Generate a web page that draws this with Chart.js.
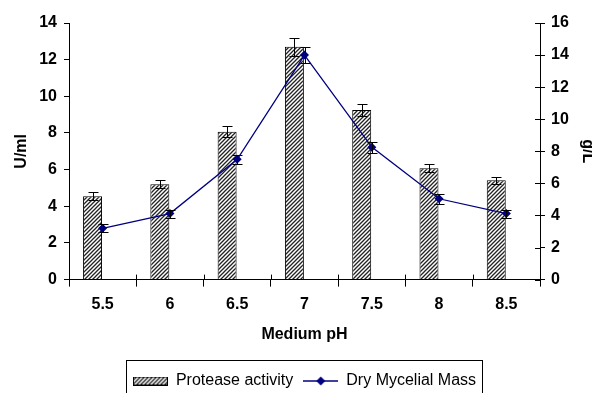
<!DOCTYPE html>
<html>
<head>
<meta charset="utf-8">
<script src="https://cdn.jsdelivr.net/npm/chart.js@4.4.1/dist/chart.umd.min.js"></script>
<style>
  html, body { margin: 0; padding: 0; background: #fff; overflow: hidden; }
  canvas { display: block; }
</style>
</head>
<body>
<canvas id="chart" width="600" height="400" style="width:600px;height:400px"></canvas>
<script>
const phLabels = ["5.5", "6", "6.5", "7", "7.5", "8", "8.5"];
const proteaseActivity = [4.55, 5.2, 8.07, 12.7, 9.25, 6.08, 5.42];
const proteaseErr = [0.22, 0.22, 0.3, 0.5, 0.35, 0.2, 0.2];
const dryMass = [3.2, 4.12, 7.5, 14.0, 8.26, 5.04, 4.12];
const dryMassErr = [0.25, 0.25, 0.3, 0.5, 0.35, 0.3, 0.25];

const FONT = "'Liberation Sans', Arial, sans-serif";
const NAVY = "#000080";

// fine diagonal hatch like the old excel fill
function makeHatch() {
  const c = document.createElement("canvas");
  c.width = 4; c.height = 4;
  const g = c.getContext("2d");
  g.fillStyle = "#fff";
  g.fillRect(0, 0, 4, 4);
  g.strokeStyle = "#222";
  g.lineWidth = 1.3;
  g.beginPath();
  g.moveTo(-1, 5); g.lineTo(5, -1);
  g.moveTo(-1, 1); g.lineTo(1, -1);
  g.moveTo(3, 5); g.lineTo(5, 3);
  g.stroke();
  return g.createPattern(c, "repeat");
}
const hatch = makeHatch();

function legendBarIcon() {
  const c = document.createElement("canvas");
  c.width = 35; c.height = 9;
  const g = c.getContext("2d");
  g.fillStyle = hatch;
  g.fillRect(0, 0, 35, 9);
  g.strokeStyle = "#000";
  g.lineWidth = 1;
  g.strokeRect(0.5, 0.5, 34, 8);
  return c;
}
function legendLineIcon() {
  const c = document.createElement("canvas");
  c.width = 35; c.height = 10;
  const g = c.getContext("2d");
  g.strokeStyle = NAVY;
  g.lineWidth = 1.3;
  g.beginPath(); g.moveTo(0, 5); g.lineTo(35, 5); g.stroke();
  g.fillStyle = NAVY;
  g.beginPath();
  g.moveTo(17.5, 0.5); g.lineTo(22, 5); g.lineTo(17.5, 9.5); g.lineTo(13, 5); g.closePath();
  g.fill();
  return c;
}

// error bars for both series, positioned from the scales
const errorBars = {
  id: "errorBars",
  afterDatasetsDraw(chart) {
    const ctx = chart.ctx;
    ctx.save();
    ctx.strokeStyle = "#000";
    ctx.lineWidth = 1;
    const draw = (meta, vals, errs, scale) => {
      meta.data.forEach((el, i) => {
        if (vals[i] == null) return;
        const x = Math.round(el.x) + 0.5;
        const yTop = Math.round(scale.getPixelForValue(vals[i] + errs[i])) + 0.5;
        const yBot = Math.round(scale.getPixelForValue(vals[i] - errs[i])) + 0.5;
        ctx.beginPath();
        ctx.moveTo(x, yTop); ctx.lineTo(x, yBot);
        ctx.moveTo(x - 5, yTop); ctx.lineTo(x + 5, yTop);
        ctx.moveTo(x - 5, yBot); ctx.lineTo(x + 5, yBot);
        ctx.stroke();
      });
    };
    draw(chart.getDatasetMeta(0), proteaseActivity, proteaseErr, chart.scales.y);
    draw(chart.getDatasetMeta(2), dryMass, dryMassErr, chart.scales.y2);
    ctx.restore();
  }
};

// inner halves of the crossing tick marks + box around the legend
const frame = {
  id: "frame",
  afterDraw(chart) {
    const ctx = chart.ctx;
    const { x, y2 } = chart.scales;
    ctx.save();
    ctx.strokeStyle = "#000";
    ctx.lineWidth = 1;
    ctx.beginPath();
    const n = phLabels.length;
    for (let i = 1; i < n; i++) {
      const px = Math.round(x.left + i * (x.width / n)) + 0.5;
      ctx.moveTo(px, x.top);
      ctx.lineTo(px, x.top - 5);
    }
    y2.ticks.forEach(t => {
      const py = Math.round(y2.getPixelForValue(t.value)) + 0.5;
      ctx.moveTo(y2.left, py);
      ctx.lineTo(y2.left - 5, py);
    });
    ctx.stroke();

    const hb = chart.legend.legendHitBoxes;
    if (hb && hb.length) {
      const left = Math.min(...hb.map(b => b.left)) - 7;
      const right = Math.max(...hb.map(b => b.left + b.width)) + 6;
      const top = Math.min(...hb.map(b => b.top)) - 13;
      const bottom = Math.max(...hb.map(b => b.top + b.height)) + 8;
      ctx.strokeRect(Math.round(left) + 0.5, Math.round(top) + 0.5, Math.round(right - left), Math.round(bottom - top));
    }
    ctx.restore();
  }
};

const icons = [legendBarIcon(), legendLineIcon()];

new Chart(document.getElementById("chart"), {
  data: {
    labels: phLabels,
    datasets: [
      {
        type: "bar",
        label: "Protease activity",
        data: proteaseActivity,
        backgroundColor: hatch,
        borderColor: "#000",
        borderWidth: 1,
        yAxisID: "y",
        categoryPercentage: 0.6,
        barPercentage: 0.94,
        order: 2
      },
      {
        type: "bar",
        label: "",
        data: phLabels.map(() => null),
        yAxisID: "y",
        categoryPercentage: 0.6,
        barPercentage: 0.94,
        order: 3
      },
      {
        type: "line",
        label: "Dry Mycelial Mass",
        data: dryMass,
        borderColor: NAVY,
        backgroundColor: NAVY,
        borderWidth: 1.3,
        pointStyle: "rectRot",
        pointRadius: 4.5,
        pointBorderWidth: 0,
        tension: 0,
        yAxisID: "y2",
        order: 1
      }
    ]
  },
  options: {
    responsive: false,
    animation: false,
    layout: { padding: { left: 12, right: 3, top: 23, bottom: 1 } },
    plugins: {
      tooltip: { enabled: false },
      legend: {
        position: "bottom",
        labels: {
          usePointStyle: true,
          pointStyleWidth: 35,
          boxHeight: 10,
          padding: 10,
          color: "#000",
          font: { family: FONT, size: 16 },
          generateLabels(chart) {
            return [
              { text: "Protease activity", pointStyle: icons[0], datasetIndex: 0, fontColor: "#000", lineWidth: 0, strokeStyle: "transparent" },
              { text: "Dry Mycelial Mass", pointStyle: icons[1], datasetIndex: 2, fontColor: "#000", lineWidth: 0, strokeStyle: "transparent" }
            ];
          }
        }
      }
    },
    scales: {
      x: {
        offset: true,
        grid: { display: true, offset: true, drawOnChartArea: false, color: "#000", tickLength: 7, tickColor: "#000" },
        border: { display: true, color: "#000", width: 1 },
        ticks: { color: "#000", font: { family: FONT, size: 16, weight: "bold" }, padding: 8 },
        title: { display: true, text: "Medium pH", color: "#000", font: { family: FONT, size: 16, weight: "bold" }, padding: { top: 3, bottom: 19 } }
      },
      y: {
        position: "left",
        min: 0, max: 14,
        afterFit(scale) { scale.width = 57; },
        ticks: { stepSize: 2, color: "#000", font: { family: FONT, size: 16, weight: "bold" }, padding: 7 },
        grid: { drawOnChartArea: false, color: "#000", tickLength: 5 },
        border: { color: "#000" },
        title: { display: true, text: "U/ml", color: "#000", font: { family: FONT, size: 16, weight: "bold" }, padding: { top: 0, bottom: 8 } }
      },
      y2: {
        position: "right",
        min: 0, max: 16,
        afterFit(scale) { scale.width = 57; },
        ticks: { stepSize: 2, color: "#000", font: { family: FONT, size: 16, weight: "bold" }, padding: 6 },
        grid: { drawOnChartArea: false, color: "#000", tickLength: 5 },
        border: { color: "#000" },
        title: { display: true, text: "g/L", color: "#000", font: { family: FONT, size: 16, weight: "bold" }, padding: { top: 0, bottom: 9 } }
      }
    }
  },
  plugins: [errorBars, frame]
});
</script>
</body>
</html>
